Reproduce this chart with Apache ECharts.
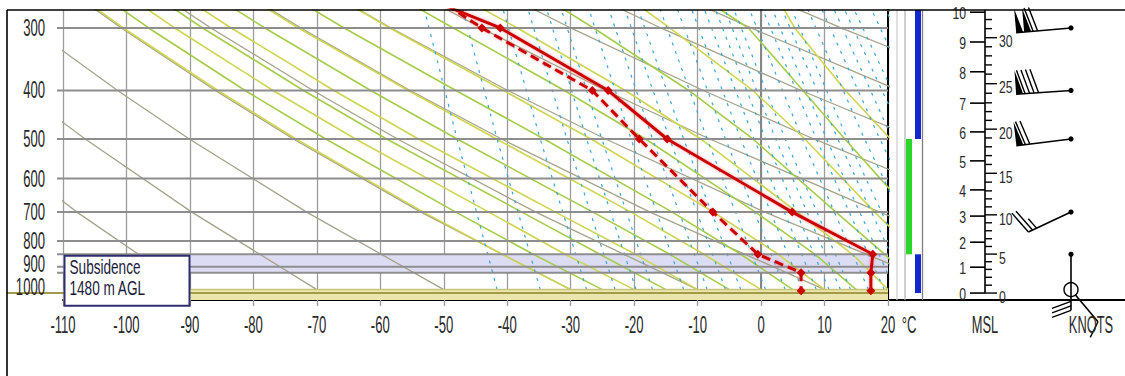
<!DOCTYPE html>
<html>
<head>
<meta charset="utf-8">
<title>Sounding</title>
<script src="https://cdn.jsdelivr.net/npm/echarts@6.0.0/dist/echarts.min.js"></script>
<style>
  html, body { margin: 0; padding: 0; background: #fff; }
  #app { width: 1125px; height: 376px; }
</style>
</head>
<body>
<div id="app"></div>
<script>
// sounding: pressure (hPa), temperature and dew point (°C)
const soundingP = [270, 300, 400, 500, 700, 850, 925, 1005];
const tempC = [-50, -41.1, -24.1, -14.8, 4.9, 17.6, 17.3, 17.3];
const dewC = [-49.5, -44.0, -26.6, -19.2, -7.6, -0.5, 6.3, 6.3];

// axes
const tempTicks = [-110, -100, -90, -80, -70, -60, -50, -40, -30, -20, -10, 0, 10, 20];
const isobars = [300, 400, 500, 600, 700, 800, 850, 900, 925];
const pressureLabels = [300, 400, 500, 600, 700, 800, 900, 1000];
const subsidenceLayer = [850, 925];
const surfaceLayer = [1000, 1049];
const surfaceP = 1016;

// dry adiabats, T (°C) at dryLevels
const dryLevels = [1000, 700, 500, 400, 300, 250];
const dryAdiabats = [
  [-90, -107.8, -122.9, -132.2, -143.3, -150],
  [-70, -89.7, -106.5, -116.8, -129.2, -136.5],
  [-50, -71.6, -90.1, -101.4, -115.0, -123.0],
  [-30, -53.6, -73.7, -86.0, -100.8, -109.6],
  [-10, -35.5, -57.3, -70.6, -86.7, -96.1],
  [10, -17.5, -40.9, -55.3, -72.5, -82.7],
  [30, 0.6, -24.5, -39.9, -58.3, -69.2],
  [50, 18.7, -8.1, -24.5, -44.1, -55.8],
  [70, 36.7, 8.3, -9.1, -30.0, -42.3],
  [90, 54.8, 24.7, 6.3, -15.8, -28.9],
  [110, 72.8, 41.1, 21.7, -1.6, -15.4],
  [130, 90.9, 57.5, 37.1, 12.6, -1.9],
  [150, 109, 73.9, 52.5, 26.7, 11.5]
];

// moist adiabats, T (°C) at moistLevels
const moistLevels = [1000, 850, 700, 500, 400, 300, 250];
const moistAdiabats = [
  [-30, -40.8, -53.2, -73.3, -85.6, -100.5, -109.2],
  [-25, -35.9, -48.1, -68.6, -81.3, -96.5, -105.4],
  [-20, -30.9, -42.9, -63.9, -76.9, -92.4, -101.5],
  [-15, -25.4, -37.7, -59, -72.1, -88, -97.3],
  [-10, -19.8, -32.4, -54, -67.3, -83.5, -93.1],
  [-5, -14.4, -26.5, -47.9, -61.5, -78.2, -88.1],
  [0, -9, -20.5, -41.7, -55.6, -72.9, -83.0],
  [5, -3.2, -14.0, -34.2, -48.1, -65.7, -76.2],
  [10, 2.7, -7.5, -26.8, -40.6, -58.5, -69.3],
  [15, 8.5, -0.9, -18.2, -31.0, -48.5, -59.6],
  [20, 14.4, 5.7, -9.5, -21.4, -38.4, -49.8],
  [25, 19.5, 11.8, -1.3, -11.4, -26.4, -36.4],
  [30, 24.7, 17.9, 6.9, -1.3, -14.4, -23],
  [35, 29.5, 23.5, 13.2, 6.6, -2, -11.5],
  [40, 35, 29.5, 20.4, 13.3, 5.3, 1.7]
];

// mixing ratio lines, dew point (°C) at mixLevels
const mixLevels = [1000, 500, 250];
const mixLines = [
  [-41.6, -47.9, -53.9], [-34.8, -41.6, -47.9], [-27.5, -34.8, -41.6],
  [-23.0, -30.6, -37.7], [-19.7, -27.5, -34.8], [-17.1, -25.1, -32.5],
  [-12.2, -20.5, -28.2], [-8.5, -17.1, -25.1], [-5.6, -14.4, -22.6],
  [-3.2, -12.2, -20.5], [0.7, -8.5, -17.1], [3.8, -5.6, -14.4],
  [6.5, -3.2, -12.2], [8.7, -1.1, -10.2], [10.7, 0.7, -8.5],
  [12.5, 2.3, -7.0], [14.1, 3.8, -5.6], [16.9, 6.5, -3.2],
  [19.4, 8.7, -1.1], [21.1, 10.3, 0.4], [23.0, 12.1, 1.9],
  [24.7, 13.6, 3.4], [27.7, 16.3, 5.9], [30.3, 18.7, 8.1],
  [32.5, 20.7, 10.0], [34.5, 22.6, 11.6], [36.3, 24.2, 13.1],
  [39.4, 27.1, 15.8], [42.1, 29.5, 18.0]
];

// side column layers (hPa)
const greenBar = [500, 850];
const blueBars = [[276.2, 500], [850, 1016]];

// height scale
const kmLabels = [0, 1, 2, 3, 4, 5, 6, 7, 8, 9, 10];
const kmPressure = [1016, 902, 804, 713, 632, 553, 484, 424, 367, 320, 279];
const kftLabels = [0, 5, 10, 15, 20, 25, 30];

// winds
const windP = [300, 400, 500, 700, 850, 1000];
const windDir = [265, 266, 263, 245, 180, 140];
const windKt = [120, 90, 70, 25, 30, 10];

const FONT = '"Liberation Sans", Arial, sans-serif';
const P_TOP = 276.2, P_BOT = 1049;
const staffLen = [55, 55, 55, 47, 56, 42];

const chart = echarts.init(document.getElementById('app'), null, {renderer: 'svg'});

function heightToPressure(h) {
  const i = Math.min(Math.floor(h), kmPressure.length - 2);
  const f = h - i;
  return Math.exp(Math.log(kmPressure[i]) * (1 - f) + Math.log(kmPressure[i + 1]) * f);
}

// condensed tall lettering like the original
function label(x, y, text, align, size, sx) {
  return {type: 'text', x: x, y: y, scaleX: sx, scaleY: 1,
    style: {text: text, font: size + 'px ' + FONT, fill: '#2a2a2a', align: align, verticalAlign: 'middle'}};
}

function bgLine(levels, temps, style, z) {
  return {
    type: 'line', xAxisIndex: 0, yAxisIndex: 0, silent: true, symbol: 'none', z: z,
    animation: false, clip: true,
    data: levels.map((p, i) => [temps[i], p]),
    lineStyle: style
  };
}

function band(range, fill, z) {
  return {
    type: 'custom', xAxisIndex: 0, yAxisIndex: 0, silent: true, z: z, animation: false,
    data: [[-110, range[0], 20, range[1]]],
    encode: {x: [0, 2], y: [1, 3]},
    renderItem: (params, api) => {
      const a = api.coord([api.value(0), api.value(1)]);
      const b = api.coord([api.value(2), api.value(3)]);
      return {type: 'rect', shape: {x: a[0], y: a[1], width: b[0] - a[0], height: b[1] - a[1]},
        style: {fill: fill}};
    }
  };
}

const series = [];

series.push(band(subsidenceLayer, '#dcdcf4', 1));
series.push(band(surfaceLayer, '#ebe6ad', 1));

dryAdiabats.forEach(t => series.push(bgLine(dryLevels, t, {color: '#a5a38a', width: 1.3}, 2)));
moistAdiabats.forEach((t, i) => series.push(bgLine(moistLevels, t,
  {color: i % 2 ? '#a6cd4a' : '#cfd550', width: 1.6}, 2)));
mixLines.forEach(t => series.push(bgLine(mixLevels, t, {color: '#36a6d4', width: 1.2, type: [3, 6]}, 2)));

// isobars
series.push({
  type: 'custom', xAxisIndex: 0, yAxisIndex: 0, silent: true, z: 3, animation: false,
  data: isobars.map(p => [-110, p]),
  encode: {x: 0, y: 1},
  renderItem: (params, api) => {
    const a = api.coord([-110, api.value(1)]);
    const b = api.coord([20, api.value(1)]);
    return {type: 'line', shape: {x1: a[0] - 6, y1: a[1], x2: b[0], y2: b[1]},
      style: {stroke: '#8e8e8e', lineWidth: 2}};
  }
});

// 1000 hPa and surface lines
series.push({
  type: 'custom', xAxisIndex: 0, yAxisIndex: 0, silent: true, z: 3, animation: false,
  data: [[-110, 1000], [-110, surfaceP]],
  encode: {x: 0, y: 1},
  renderItem: (params, api) => {
    const a = api.coord([-110, api.value(1)]);
    const b = api.coord([20, api.value(1)]);
    const sfc = params.dataIndex === 1;
    return {type: 'line', shape: {x1: sfc ? a[0] - 56 : a[0], y1: a[1], x2: b[0], y2: b[1]},
      style: {stroke: sfc ? '#a39b48' : '#c9c27c', lineWidth: sfc ? 2 : 1.5}};
  }
});

// temperature and dew point
const redStyle = {color: '#cc0000', width: 3, shadowColor: 'rgba(255,60,60,0.55)', shadowBlur: 3};
series.push({
  type: 'line', xAxisIndex: 0, yAxisIndex: 0, silent: true, z: 6, animation: false,
  symbol: 'diamond', symbolSize: 9, clip: true,
  itemStyle: {color: '#cc0000'},
  lineStyle: redStyle,
  data: soundingP.map((p, i) => i === 0 ? {value: [tempC[i], p], symbol: 'none'} : [tempC[i], p])
});
series.push({
  type: 'line', xAxisIndex: 0, yAxisIndex: 0, silent: true, z: 6, animation: false,
  symbol: 'diamond', symbolSize: 9, clip: true,
  itemStyle: {color: '#cc0000'},
  lineStyle: Object.assign({}, redStyle, {type: [9, 5]}),
  data: soundingP.map((p, i) => i === 0 ? {value: [dewC[i], p], symbol: 'none'} : [dewC[i], p])
});

// temperature tick labels
series.push({
  type: 'custom', xAxisIndex: 0, yAxisIndex: 0, silent: true, z: 7, animation: false,
  data: tempTicks.map(t => [t, P_BOT]),
  encode: {x: 0, y: 1},
  renderItem: (params, api) => {
    const c = api.coord([api.value(0), api.value(1)]);
    return label(c[0], c[1] + 25, String(api.value(0)), 'center', 23, 0.57);
  }
});

// pressure labels
series.push({
  type: 'custom', xAxisIndex: 0, yAxisIndex: 0, silent: true, z: 7, animation: false,
  data: pressureLabels.map(p => [-110, p]),
  encode: {x: 0, y: 1},
  renderItem: (params, api) => {
    const p = api.value(1);
    const c = api.coord([api.value(0), p]);
    const dy = p >= 900 ? -3 : 0;
    return label(c[0] - 18, c[1] + dy, String(p), 'right', 23, 0.57);
  }
});

// subsidence box
series.push({
  type: 'custom', xAxisIndex: 0, yAxisIndex: 0, silent: true, z: 8, animation: false,
  data: [[-110, subsidenceLayer[0]]],
  encode: {x: 0, y: 1},
  renderItem: (params, api) => {
    const c = api.coord([api.value(0), api.value(1)]);
    const x = c[0] + 1.5, y = c[1] + 1.5;
    const txt = (ty, s) => ({type: 'text', x: x + 5, y: y + ty, scaleX: 0.68,
      style: {text: s, font: '20px ' + FONT, fill: '#1b1b3b', verticalAlign: 'middle'}});
    return {type: 'group', children: [
      {type: 'rect', shape: {x: x, y: y, width: 125, height: 50},
        style: {fill: '#fff', stroke: '#2e2e6e', lineWidth: 2}},
      txt(12, 'Subsidence'),
      txt(33, '1480 m AGL')
    ]};
  }
});

// side column: guide lines and bars
series.push({
  type: 'custom', xAxisIndex: 1, yAxisIndex: 1, silent: true, z: 3, animation: false,
  data: [[9, P_TOP, 9, P_BOT], [17, P_TOP, 17, P_BOT], [34.5, P_TOP, 34.5, P_BOT]],
  encode: {x: [0, 2], y: [1, 3]},
  renderItem: (params, api) => {
    const a = api.coord([api.value(0), api.value(1)]);
    const b = api.coord([api.value(2), api.value(3)]);
    const cols = ['#cfcfcf', '#b4b4b4', '#7d7d8f'];
    return {type: 'line', shape: {x1: a[0], y1: a[1], x2: b[0], y2: b[1]},
      style: {stroke: cols[params.dataIndex], lineWidth: 1.3}};
  }
});
const columnBars = [[18, 24, greenBar[0], greenBar[1], 0]]
  .concat(blueBars.map(b => [27, 33, b[0], b[1], 1]));
series.push({
  type: 'custom', xAxisIndex: 1, yAxisIndex: 1, silent: true, z: 4, animation: false,
  data: columnBars,
  encode: {x: [0, 1], y: [2, 3]},
  renderItem: (params, api) => {
    const a = api.coord([api.value(0), api.value(2)]);
    const b = api.coord([api.value(1), api.value(3)]);
    return {type: 'rect', shape: {x: a[0], y: a[1], width: b[0] - a[0], height: b[1] - a[1]},
      style: {fill: api.value(4) ? '#1228cc' : '#2bd62b'}};
  }
});
// °C unit label
series.push({
  type: 'custom', xAxisIndex: 1, yAxisIndex: 1, silent: true, z: 7, animation: false,
  data: [[21, P_BOT]],
  encode: {x: 0, y: 1},
  renderItem: (params, api) => {
    const c = api.coord([api.value(0), api.value(1)]);
    return label(c[0], c[1] + 25, '°C', 'center', 23, 0.57);
  }
});

// height scale axis line
series.push({
  type: 'line', xAxisIndex: 2, yAxisIndex: 2, silent: true, symbol: 'none', z: 3, animation: false,
  data: [[55, kmPressure[0]], [55, P_TOP]],
  lineStyle: {color: '#000', width: 1.6}
});
// km ticks and labels
series.push({
  type: 'custom', xAxisIndex: 2, yAxisIndex: 2, silent: true, z: 4, animation: false,
  data: kmLabels.map((k, i) => [55, kmPressure[i], k]),
  encode: {x: 0, y: 1},
  renderItem: (params, api) => {
    const c = api.coord([api.value(0), api.value(1)]);
    return {type: 'group', children: [
      {type: 'line', shape: {x1: c[0] - 15, y1: c[1], x2: c[0], y2: c[1]},
        style: {stroke: '#000', lineWidth: 1.6}},
      label(c[0] - 19, c[1] + 1, String(api.value(2)), 'right', 17, 0.72)
    ]};
  }
});
// thousand-feet ticks and labels
const kftTicks = [];
for (let k = 0; k <= 32; k++) kftTicks.push([55, heightToPressure(k * 0.3048), k]);
series.push({
  type: 'custom', xAxisIndex: 2, yAxisIndex: 2, silent: true, z: 4, animation: false,
  data: kftTicks,
  encode: {x: 0, y: 1},
  renderItem: (params, api) => {
    const c = api.coord([api.value(0), api.value(1)]);
    const k = api.value(2);
    const major = kftLabels.indexOf(k) >= 0;
    const kids = [{type: 'line', shape: {x1: c[0], y1: c[1], x2: c[0] + (major ? 12 : 7), y2: c[1]},
      style: {stroke: '#000', lineWidth: 1.4}}];
    if (major) kids.push(label(c[0] + 14, c[1] + 4, String(k), 'left', 17, 0.72));
    return {type: 'group', children: kids};
  }
});
// MSL / KNOTS captions
series.push({
  type: 'custom', xAxisIndex: 2, yAxisIndex: 2, silent: true, z: 7, animation: false,
  data: [[55, P_BOT], [161, P_BOT]],
  encode: {x: 0, y: 1},
  renderItem: (params, api) => {
    const c = api.coord([api.value(0), api.value(1)]);
    return label(c[0], c[1] + 25, params.dataIndex ? 'KNOTS' : 'MSL', 'center', 23, 0.56);
  }
});

// wind barbs
series.push({
  type: 'custom', xAxisIndex: 2, yAxisIndex: 2, silent: true, z: 5, animation: false,
  data: windP.map((p, i) => [141, p, windDir[i], windKt[i]]),
  encode: {x: 0, y: 1},
  renderItem: (params, api) => {
    const s = api.coord([api.value(0), api.value(1)]);
    const ang = api.value(2) * Math.PI / 180;
    const kt = api.value(3);
    const surface = params.dataIndex === windP.length - 1;
    const ux = Math.sin(ang), uy = -Math.cos(ang), nx = -uy, ny = ux;
    const L = staffLen[params.dataIndex], B = surface ? 16 : (params.dataIndex === 4 ? 19 : 24), tilt = 7;
    const at = d => [s[0] + ux * d, s[1] + uy * d];
    const s0 = at(surface ? 7 : 0), t = at(L);
    const kids = [{type: 'line', shape: {x1: s0[0], y1: s0[1], x2: t[0], y2: t[1]},
      style: {stroke: '#000', lineWidth: 1.6}}];
    if (surface) kids.push({type: 'circle', shape: {cx: s[0], cy: s[1], r: 7},
      style: {fill: 'none', stroke: '#000', lineWidth: 1.4}});
    else kids.push({type: 'circle', shape: {cx: s[0], cy: s[1], r: 2.6}, style: {fill: '#000'}});
    let rest = Math.round(kt / 5) * 5, d = L;
    while (rest >= 50) {
      const p0 = at(d), p1 = at(d - 7);
      kids.push({type: 'polygon', shape: {points: [p0, [p0[0] + nx * B, p0[1] + ny * B], p1]},
        style: {fill: '#000'}});
      d -= 8; rest -= 50;
    }
    if (d < L) d -= 1;
    while (rest >= 10) {
      const p0 = at(d);
      kids.push({type: 'line', shape: {x1: p0[0], y1: p0[1],
        x2: p0[0] + nx * B + ux * tilt, y2: p0[1] + ny * B + uy * tilt},
        style: {stroke: '#000', lineWidth: 1.4}});
      d -= 4.5; rest -= 10;
    }
    if (rest >= 5) {
      const p0 = at(d);
      kids.push({type: 'line', shape: {x1: p0[0], y1: p0[1],
        x2: p0[0] + nx * B / 2 + ux * tilt / 2, y2: p0[1] + ny * B / 2 + uy * tilt / 2},
        style: {stroke: '#000', lineWidth: 1.4}});
    }
    return {type: 'group', children: kids};
  }
});

const logAxis = (grid, line) => ({
  type: 'log', gridIndex: grid, logBase: 10, inverse: true, min: P_TOP, max: P_BOT,
  axisLine: line ? {show: true, lineStyle: line} : {show: false},
  axisTick: {show: false}, axisLabel: {show: false}, splitLine: {show: false}
});
const plainX = (grid, max) => ({
  type: 'value', gridIndex: grid, min: 0, max: max,
  axisLine: {show: true, onZero: false, lineStyle: {color: '#000', width: 2}},
  axisTick: {show: false}, axisLabel: {show: false}, splitLine: {show: false}
});

chart.setOption({
  animation: false,
  backgroundColor: '#fff',
  grid: [
    {left: 63, top: 10, width: 825, height: 290},
    {left: 888, top: 10, width: 42, height: 290},
    {left: 930, top: 10, width: 195, height: 290}
  ],
  xAxis: [
    {type: 'value', gridIndex: 0, min: -110, max: 20, interval: 10,
      axisLine: {show: true, onZero: false, lineStyle: {color: '#000', width: 2}},
      axisTick: {show: true, length: 6, lineStyle: {color: '#9c9c9c', width: 1.3}},
      axisLabel: {show: false},
      splitLine: {show: true, lineStyle: {color: '#9c9c9c', width: 1.3}}},
    plainX(1, 42),
    plainX(2, 195)
  ],
  yAxis: [
    logAxis(0, {color: '#868686', width: 2}),
    logAxis(1, {color: '#000', width: 2}),
    logAxis(2, null)
  ],
  graphic: [
    {type: 'line', shape: {x1: 7, y1: 10, x2: 1125, y2: 10}, style: {stroke: '#000', lineWidth: 1.6}, z: 10},
    {type: 'line', shape: {x1: 7, y1: 10, x2: 7, y2: 376}, style: {stroke: '#000', lineWidth: 1.6}, z: 10}
  ],
  series: series
});

addEventListener('resize', () => chart.resize());
</script>
</body>
</html>
